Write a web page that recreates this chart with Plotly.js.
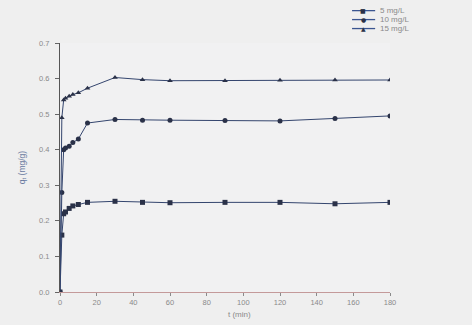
<!DOCTYPE html>
<html>
<head>
<meta charset="utf-8">
<script src="https://cdn.plot.ly/plotly-3.0.1.min.js"></script>
<style>html,body{margin:0;padding:0;background:#efefef;}#chart{width:472px;height:325px;}</style>
</head>
<body>
<div id="chart"></div>
<script>
const times = [0, 1, 2, 3, 5, 7, 10, 15, 30, 45, 60, 90, 120, 150, 180];
const q5  = [0, 0.16, 0.22, 0.225, 0.235, 0.242, 0.246, 0.252, 0.255, 0.252, 0.251, 0.252, 0.252, 0.248, 0.252];
const q10 = [0, 0.28, 0.40, 0.405, 0.41, 0.42, 0.43, 0.475, 0.485, 0.483, 0.483, 0.482, 0.481, 0.488, 0.495];
const q15 = [0, 0.49, 0.54, 0.545, 0.55, 0.555, 0.56, 0.573, 0.603, 0.597, 0.594, 0.594, 0.595, 0.596, 0.596];
const seriesNames = ['5 mg/L', '10 mg/L', '15 mg/L'];
const xTicks = [0, 20, 40, 60, 80, 100, 120, 140, 160, 180];
const yTicks = [0.0, 0.1, 0.2, 0.3, 0.4, 0.5, 0.6, 0.7];

const lineColor = '#34456e';
const markerColor = '#2a3148';
const symbols = ['square', 'circle', 'triangle-up'];
const glyphs = ['\u25A0', '\u25CF', '\u25B2'];
const data = [q5, q10, q15].map((q, i) => ({
  x: times, y: q, name: seriesNames[i], type: 'scatter', mode: 'lines+markers',
  line: {color: lineColor, width: 1},
  marker: {symbol: symbols[i], size: 5, color: markerColor},
  showlegend: false
}));

// hand-made compact legend (top right), built from the series names
const legendRowsY = [1.13, 1.094, 1.058];
const shapes = [];
const annotations = [];
seriesNames.forEach((name, i) => {
  const yy = legendRowsY[i];
  shapes.push({type: 'line', xref: 'paper', yref: 'paper', x0: 0.885, x1: 0.955, y0: yy, y1: yy,
               line: {color: '#3a5590', width: 1.3}});
  annotations.push({xref: 'paper', yref: 'paper', x: 0.919, y: yy, text: glyphs[i], showarrow: false,
                    xanchor: 'center', yanchor: 'middle', font: {size: 6, color: markerColor, family: 'DejaVu Sans'}});
  annotations.push({xref: 'paper', yref: 'paper', x: 0.963, y: yy, text: name, showarrow: false,
                    xanchor: 'left', yanchor: 'middle', font: {size: 8, color: '#8a8a8a'}});
});
annotations.push({xref: 'paper', yref: 'paper', x: 0.545, y: -0.065, text: 't (min)', showarrow: false,
                  xanchor: 'center', yanchor: 'top', font: {size: 8, color: '#8a8a8a'}});

const layout = {
  width: 472, height: 325,
  margin: {l: 60, r: 82, t: 43, b: 33},
  paper_bgcolor: '#efefef', plot_bgcolor: '#f1f1f2',
  font: {family: 'Liberation Sans, Arial, sans-serif', size: 8, color: '#7a7a7a'},
  showlegend: false,
  shapes: shapes,
  annotations: annotations,
  xaxis: {
    range: [0, 180], tickvals: xTicks, ticktext: xTicks.map(String),
    showgrid: false, zeroline: false, showline: true, linecolor: '#c49a9a', linewidth: 1,
    ticks: 'outside', ticklen: 3, tickcolor: '#8a8a8a',
    tickfont: {size: 7.5, color: '#8a8a8a'}
  },
  yaxis: {
    range: [0, 0.7], tickvals: yTicks, ticktext: yTicks.map(v => v.toFixed(1)),
    showgrid: false, zeroline: false, showline: true, linecolor: '#555', linewidth: 1,
    ticks: 'outside', ticklen: 4, tickcolor: '#666', ticklabelstandoff: 4,
    tickfont: {size: 7.5, color: '#8a8a8a'},
    title: {text: 'q<sub>t</sub> (mg/g)', font: {size: 8.5, color: '#6a7aa0'}, standoff: 12}
  }
};
Plotly.newPlot('chart', data, layout, {displayModeBar: false, staticPlot: true});
</script>
</body>
</html>
